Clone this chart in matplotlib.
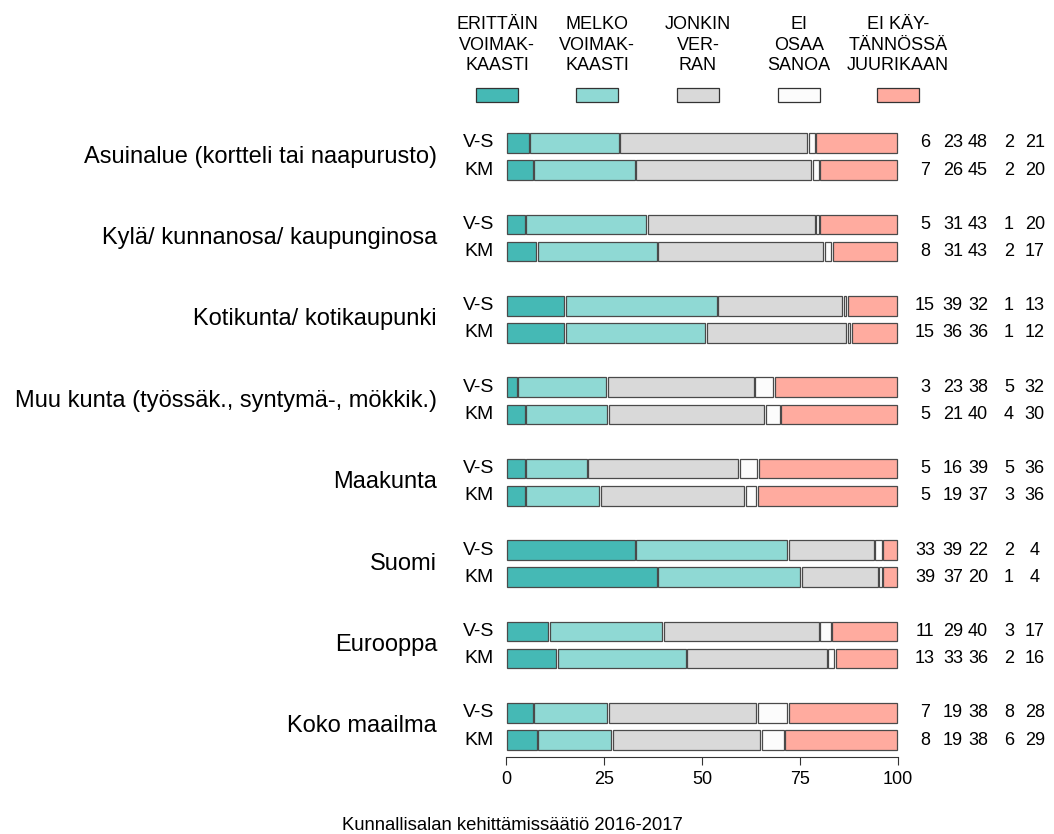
import numpy as np
import matplotlib
matplotlib.use("Agg")
from matplotlib import pyplot as plt
from matplotlib.patches import Rectangle

plt.rcParams['font.family'] = ['Liberation Sans', 'DejaVu Sans']

categories = ["Asuinalue (kortteli tai naapurusto)", "Kylä/ kunnanosa/ kaupunginosa",
              "Kotikunta/ kotikaupunki", "Muu kunta (työssäk., syntymä-, mökkik.)",
              "Maakunta", "Suomi", "Eurooppa", "Koko maailma"]
groups = ["V-S", "KM"]
legend_labels = ["ERITTÄIN\nVOIMAK-\nKAASTI", "MELKO\nVOIMAK-\nKAASTI", "JONKIN\nVER-\nRAN",
                 "EI\nOSAA\nSANOA", "EI KÄY-\nTÄNNÖSSÄ\nJUURIKAAN"]
colors = ["#45b9b5", "#8fd9d4", "#d9d9d9", "#fcfcfc", "#ffab9f"]

# rows: V-S, KM for each category
vs = [[6, 23, 48, 2, 21], [5, 31, 43, 1, 20], [15, 39, 32, 1, 13], [3, 23, 38, 5, 32],
      [5, 16, 39, 5, 36], [33, 39, 22, 2, 4], [11, 29, 40, 3, 17], [7, 19, 38, 8, 28]]
km = [[7, 26, 45, 2, 20], [8, 31, 43, 2, 17], [15, 36, 36, 1, 12], [5, 21, 40, 4, 30],
      [5, 19, 37, 3, 36], [39, 37, 20, 1, 4], [13, 33, 36, 2, 16], [8, 19, 38, 6, 29]]
ticks = [0, 25, 50, 75, 100]
footer = "Kunnallisalan kehittämissäätiö 2016-2017"

W, H = 1054, 834
fig = plt.figure(figsize=(W / 100, H / 100), dpi=100)
ax = fig.add_axes([506 / W, 1 - 757 / H, 392 / W, (757 - 130) / H])

gap = 0.4
num_x = [1.069, 1.140, 1.204, 1.283, 1.349]
for i, cat in enumerate(categories):
    for j, row in enumerate([vs[i], km[i]]):
        y = 3 * i + j
        vals = np.array(row, dtype=float)
        widths = vals / vals.sum() * 100
        left = 0
        for k, w in enumerate(widths):
            ax.barh(y, w - gap, left=left + gap / 2, height=0.72, color=colors[k],
                    edgecolor="#4a4a4a", linewidth=0.9, clip_on=False)
            left += w
        ax.text(-0.031, y, groups[j], transform=ax.get_yaxis_transform(),
                ha="right", va="center", fontsize=14)
        for k, v in enumerate(row):
            ax.text(num_x[k], y, str(v), transform=ax.get_yaxis_transform(),
                    ha="center", va="center", fontsize=13)
    ax.text(-0.176, 3 * i + 0.5, cat, transform=ax.get_yaxis_transform(),
            ha="right", va="center", fontsize=17)

ax.set_xlim(0, 100)
ax.set_ylim(22 + 17 / 27.14, -13 / 27.14)
for s in ["top", "right", "left"]:
    ax.spines[s].set_visible(False)
ax.spines["bottom"].set_bounds(0, 100)
ax.spines["bottom"].set_color("#333333")
ax.set_yticks([])
ax.set_xticks(ticks)
ax.tick_params(axis="x", length=6, color="#333333", labelsize=13, pad=4)

# legend
box_x = [497, 597, 698, 799, 898]
for k, lab in enumerate(legend_labels):
    fig.text(box_x[k] / W, 1 - 45 / H, lab, ha="center", va="center",
             fontsize=13, linespacing=1.3)
    fig.patches.append(Rectangle(((box_x[k] - 21) / W, 1 - 102 / H), 42 / W, 14 / H,
                                 transform=fig.transFigure, facecolor=colors[k],
                                 edgecolor="#333333", linewidth=0.9))

fig.text(512 / W, 1 - 825 / H, footer, ha="center", va="center", fontsize=13.3)

fig.savefig("out.png", dpi=100)
